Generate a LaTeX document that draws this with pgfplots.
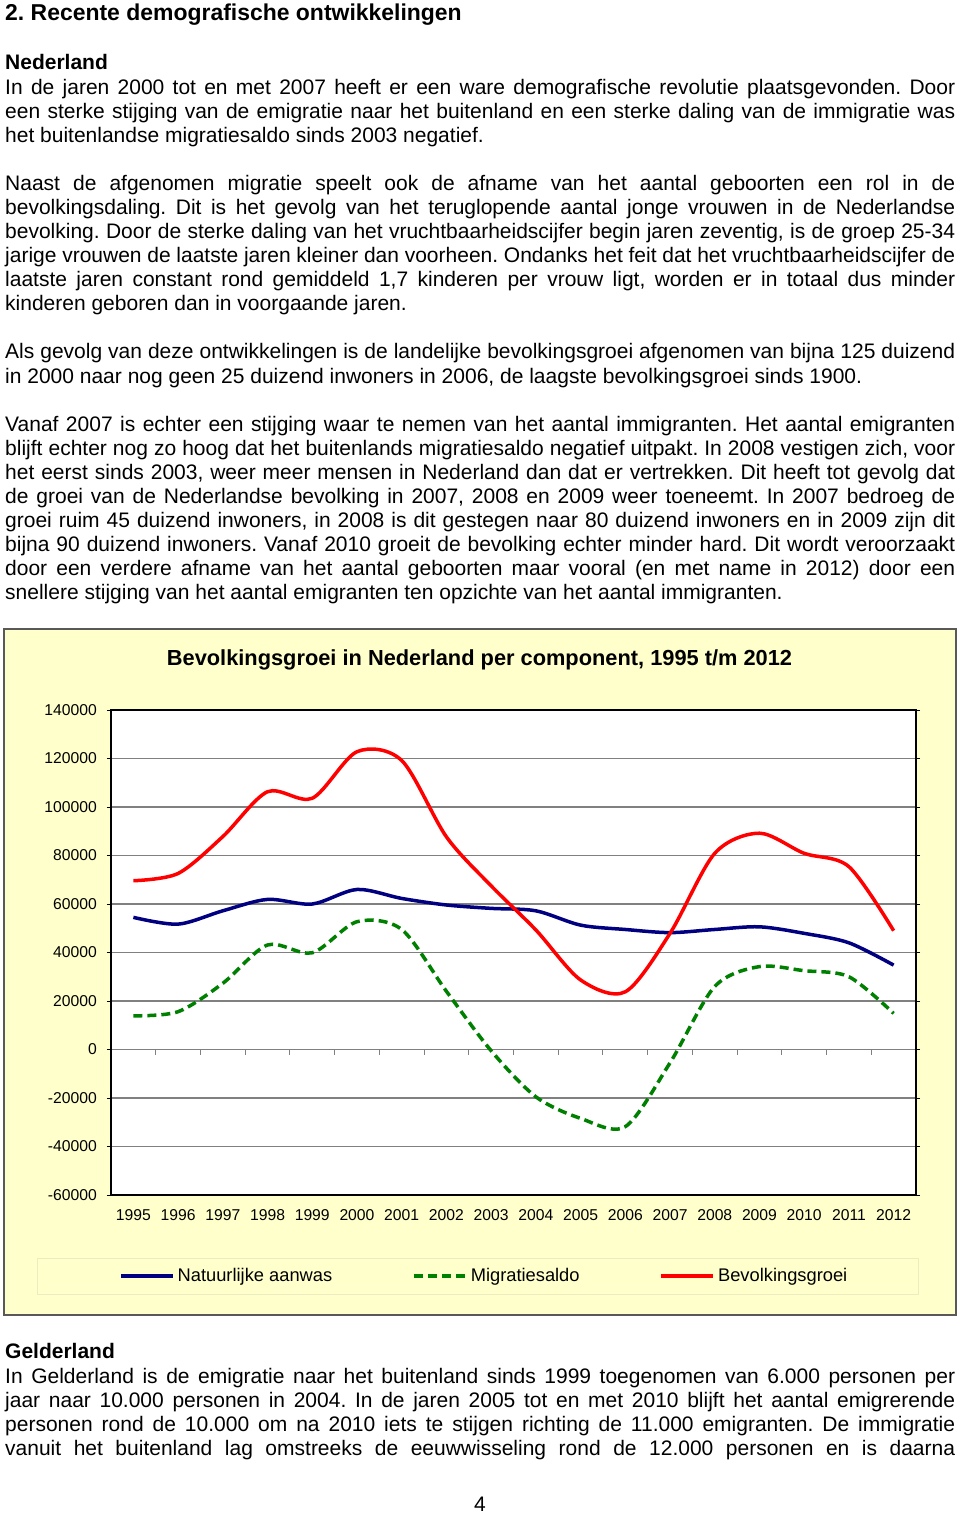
\documentclass[border=0pt]{standalone}
\usepackage{pgfplots}
\pgfplotsset{compat=1.18}
\usepackage{fontspec}
\setmainfont{Liberation Sans}
\frenchspacing
\definecolor{chartbg}{HTML}{FFFFCC}
\definecolor{natblue}{HTML}{000080}
\definecolor{migreen}{HTML}{008000}
\definecolor{bevred}{HTML}{FF0000}
\newcommand\bodyfont{\fontsize{21}{24}\selectfont}
\newcommand\tjust[2]{\node[anchor=base west,inner sep=0pt] at (5pt,-#1pt) {\bodyfont\makebox[950pt][s]{#2}};}
\newcommand\tlast[2]{\node[anchor=base west,inner sep=0pt] at (5pt,-#1pt) {\bodyfont #2};}
\newcommand\tbold[2]{\node[anchor=base west,inner sep=0pt] at (5pt,-#1pt) {\bodyfont\bfseries #2};}
\pgfplotstableread{
x   nat     mig     bev
0.5 54500   13900   69600
1.5 51700   15600   72600
2.5 57200   27300   87800
3.5 61900   43100   106300
4.5 60000   39900   103600
5.5 66000   52700   122800
6.5 62300   49500   119200
7.5 59600   24000   87700
8.5 58200   -500    67500
9.5 57200   -19500  49300
10.5 51300  -28400  28700
11.5 49500  -31800  23800
12.5 48200  -5500   47900
13.5 49500  26000   80900
14.5 50600  34200   89200
15.5 47900  32500   80900
16.5 44000  30000   75400
17.5 34800  14900   49000
}\datatable
\begin{document}
\begin{tikzpicture}
\fill[white] (0pt,0pt) rectangle (960pt,-1515pt);
% heading
\node[anchor=base west,inner sep=0pt] at (5pt,-20pt) {\fontsize{22.95}{26}\selectfont\bfseries 2. Recente demografische ontwikkelingen};
\tbold{69}{Nederland}
\tjust{94}{In de jaren 2000 tot en met 2007 heeft er een ware demografische revolutie plaatsgevonden. Door}
\tjust{118}{een sterke stijging van de emigratie naar het buitenland en een sterke daling van de immigratie was}
\tlast{142}{het buitenlandse migratiesaldo sinds 2003 negatief.}
\tjust{190}{Naast de afgenomen migratie speelt ook de afname van het aantal geboorten een rol in de}
\tjust{214}{bevolkingsdaling. Dit is het gevolg van het teruglopende aantal jonge vrouwen in de Nederlandse}
\tjust{238}{bevolking. Door de sterke daling van het vruchtbaarheidscijfer begin jaren zeventig, is de groep 25-34}
\tjust{262}{jarige vrouwen de laatste jaren kleiner dan voorheen. Ondanks het feit dat het vruchtbaarheidscijfer de}
\tjust{286}{laatste jaren constant rond gemiddeld 1,7 kinderen per vrouw ligt, worden er in totaal dus minder}
\tlast{310}{kinderen geboren dan in voorgaande jaren.}
\tjust{358}{Als gevolg van deze ontwikkelingen is de landelijke bevolkingsgroei afgenomen van bijna 125 duizend}
\tlast{383}{in 2000 naar nog geen 25 duizend inwoners in 2006, de laagste bevolkingsgroei sinds 1900.}
\tjust{431}{Vanaf 2007 is echter een stijging waar te nemen van het aantal immigranten. Het aantal emigranten}
\tjust{455}{blijft echter nog zo hoog dat het buitenlands migratiesaldo negatief uitpakt. In 2008 vestigen zich, voor}
\tjust{479}{het eerst sinds 2003, weer meer mensen in Nederland dan dat er vertrekken. Dit heeft tot gevolg dat}
\tjust{503}{de groei van de Nederlandse bevolking in 2007, 2008 en 2009 weer toeneemt. In 2007 bedroeg de}
\tjust{527}{groei ruim 45 duizend inwoners, in 2008 is dit gestegen naar 80 duizend inwoners en in 2009 zijn dit}
\tjust{551}{bijna 90 duizend inwoners. Vanaf 2010 groeit de bevolking echter minder hard. Dit wordt veroorzaakt}
\tjust{575}{door een verdere afname van het aantal geboorten maar vooral (en met name in 2012) door een}
\tlast{599}{snellere stijging van het aantal emigranten ten opzichte van het aantal immigranten.}
% chart frame
\filldraw[fill=chartbg,draw=gray!70!black,line width=1.2pt] (4pt,-629pt) rectangle (956pt,-1315pt);
\draw[chartbg!85!gray,line width=0.8pt] (37pt,-1258pt) rectangle (918pt,-1294pt);
\node[anchor=base,inner sep=0pt] at (479.5pt,-665pt) {\fontsize{21.8}{24}\selectfont\bfseries Bevolkingsgroei in Nederland per component, 1995 t/m 2012};
\begin{axis}[
  at={(111pt,-1195pt)}, anchor=south west,
  scale only axis, width=805pt, height=485pt,
  xmin=0, xmax=18, ymin=-60000, ymax=140000,
  scaled y ticks=false,
  ytick={-60000,-40000,-20000,0,20000,40000,60000,80000,100000,120000,140000},
  yticklabels={-60000,-40000,-20000,0,20000,40000,60000,80000,100000,120000,140000},
  xtick={0.5,1.5,...,17.5},
  xticklabels={1995,1996,1997,1998,1999,2000,2001,2002,2003,2004,2005,2006,2007,2008,2009,2010,2011,2012},
  major x tick style={draw=none},
  ytick style={black,line width=1pt},
  ytick align=outside, major tick length=4pt,
  ymajorgrids, grid style={gray,line width=1.2pt},
  axis background/.style={fill=white},
  axis line style={black,line width=1.8pt},
  tick label style={font=\fontsize{15.7}{18}\selectfont},
  yticklabel style={inner sep=0pt,xshift=-10pt},
  xticklabel style={inner sep=0pt,yshift=-14.3pt},
  legend columns=3,
  legend style={at={(axis description cs:0.0099,-0.167)}, anchor=west, draw=none, fill=none,
    inner sep=0pt, font=\fontsize{18.3}{20}\selectfont,
    nodes={inner sep=0pt},
    /tikz/every odd column/.append style={column sep=3pt},
    /tikz/every even column/.append style={column sep=80pt}},
  legend image code/.code={\draw[#1] (0pt,0pt) -- (52pt,0pt);},
]
\pgfplotsinvokeforeach{1,...,17}{\draw[gray,line width=1pt] (axis cs:#1,0) -- ++(0pt,-5pt);}
\addplot[natblue, line width=3.5pt, smooth, tension=0.5] table[x=x,y=nat] {\datatable};
\addlegendentry{Natuurlijke aanwas}
\addplot[migreen, line width=3.5pt, smooth, tension=0.5, dash pattern=on 9pt off 5pt] table[x=x,y=mig] {\datatable};
\addlegendentry{Migratiesaldo}
\addplot[bevred, line width=3.5pt, smooth, tension=0.5] table[x=x,y=bev] {\datatable};
\addlegendentry{Bevolkingsgroei}
\end{axis}
% Gelderland
\tbold{1358}{Gelderland}
\tjust{1383}{In Gelderland is de emigratie naar het buitenland sinds 1999 toegenomen van 6.000 personen per}
\tjust{1407}{jaar naar 10.000 personen in 2004. In de jaren 2005 tot en met 2010 blijft het aantal emigrerende}
\tjust{1431}{personen rond de 10.000 om na 2010 iets te stijgen richting de 11.000 emigranten. De immigratie}
\tjust{1455}{vanuit het buitenland lag omstreeks de eeuwwisseling rond de 12.000 personen en is daarna}
\node[anchor=base,inner sep=0pt] at (480pt,-1511pt) {\bodyfont 4};
\end{tikzpicture}
\end{document}
